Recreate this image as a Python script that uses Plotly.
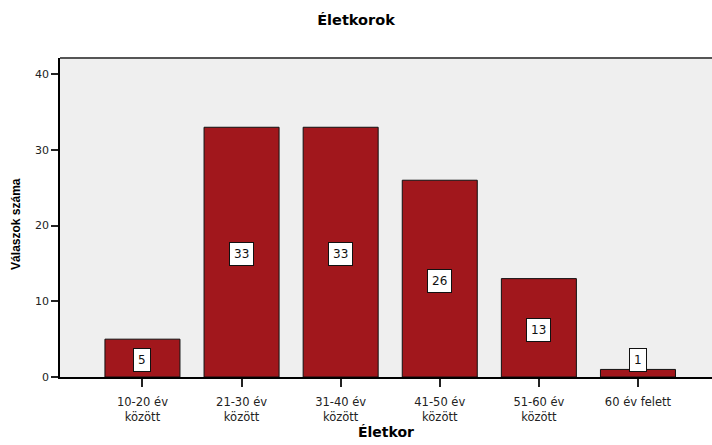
import plotly.graph_objects as go

categories = ["10-20 év<br>között", "21-30 év<br>között", "31-40 év<br>között",
              "41-50 év<br>között", "51-60 év<br>között", "60 év felett"]
counts = [5, 33, 33, 26, 13, 1]
y_ticks = [0, 10, 20, 30, 40]

title_text = "Életkorok"
x_title = "Életkor"
y_title = "Válaszok száma"

bar_color = "#A1171C"
font_family = "DejaVu Sans, Liberation Sans, Arial, sans-serif"

fig = go.Figure()
fig.add_trace(go.Bar(
    x=categories, y=counts, width=0.757,
    marker=dict(color=bar_color, line=dict(color="#111111", width=1)),
    hoverinfo="skip",
))

# value labels in white boxes
for c, v in zip(categories, counts):
    fig.add_annotation(
        x=c, y=max(v / 2, 2.55), xref="x", yref="y",
        text=str(v), showarrow=False, yshift=-2,
        font=dict(family=font_family, size=12, color="#111111"),
        bgcolor="white", bordercolor="#111111", borderwidth=1, borderpad=4,
        xanchor="center", yanchor="middle",
    )

# axis titles
fig.add_annotation(
    x=0, y=0.48, xref="paper", yref="paper", xshift=-44,
    text="<b>" + y_title + "</b>", textangle=-90, showarrow=False,
    font=dict(family="Liberation Sans, Arial, sans-serif", size=12, color="#000000"),
    xanchor="center", yanchor="middle",
)
fig.add_annotation(
    x=0.5, y=0, xref="paper", yref="paper", yshift=-55,
    text="<b>" + x_title + "</b>", showarrow=False,
    font=dict(family=font_family, size=14, color="#000000"),
    xanchor="center", yanchor="middle",
)

# top border line
fig.add_shape(type="line", xref="paper", yref="paper", x0=0, x1=1, y0=1, y1=1,
              line=dict(color="#555555", width=2))

fig.update_layout(
    width=712, height=445,
    margin=dict(l=60, r=0, t=58, b=68),
    paper_bgcolor="white",
    plot_bgcolor="#EFEFEF",
    showlegend=False,
    title=dict(text="<b>" + title_text + "</b>", x=0.5, xref="container",
               y=1 - 20 / 445, yref="container", yanchor="middle", xanchor="center",
               font=dict(family=font_family, size=14.5, color="#000000")),
    bargap=0.243,
)
fig.update_xaxes(
    type="category", range=[-0.832, 5.747],
    showline=True, linecolor="#000000", linewidth=1.5,
    ticks="outside", ticklen=8, tickcolor="#222222", tickwidth=1.5,
    ticklabelstandoff=5,
    tickfont=dict(family=font_family, size=11.5, color="#222222"),
    showgrid=False, zeroline=False, fixedrange=True,
)
fig.update_yaxes(
    range=[0, 42.15], tickvals=y_ticks,
    showline=True, linecolor="#000000", linewidth=1.5,
    ticks="outside", ticklen=7, tickcolor="#222222", tickwidth=1.5,
    tickfont=dict(family=font_family, size=11, color="#222222"),
    showgrid=False, zeroline=False, fixedrange=True,
)

fig.write_html("out.html", config={"displayModeBar": False},
               post_script="document.body.style.margin='0';")
